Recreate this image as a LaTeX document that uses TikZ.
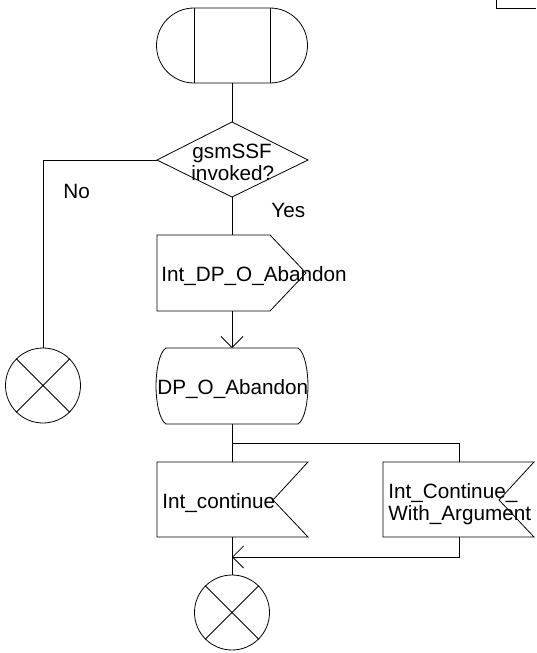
\documentclass[tikz,border=0pt]{standalone}
\usepackage{fontspec}
\setmainfont{Liberation Sans}
\usetikzlibrary{arrows.meta}
\begin{document}
\begin{tikzpicture}[x=1pt,y=1pt,line width=0.8pt,
  lbl/.style={inner sep=0pt,anchor=base west,font=\fontsize{20.7}{22}\selectfont},
  arr/.style={-{Straight Barb[length=11pt,width=22pt]}},
  term/.style={circle,draw,minimum size=75pt,inner sep=0pt}]
\useasboundingbox (0,0) rectangle (536,-653);
% fragment at top right
\draw (496,0) -- (496,-8) -- (536,-8);
% start terminal
\coordinate (st) at (232,-8);
\coordinate (sb) at (232,-83);
\draw (194,-8) -- (270,-8) arc[start angle=90,end angle=-90,radius=37.5] -- (194,-83) arc[start angle=270,end angle=90,radius=37.5] -- cycle;
\draw (194,-8) -- (194,-83) (270,-8) -- (270,-83);
% decision
\coordinate (dt) at (232,-122);
\coordinate (dl) at (157,-160);
\coordinate (dr) at (308,-160);
\coordinate (db) at (232,-197);
\draw (dt) -- (dr) -- (db) -- (dl) -- cycle;
\node[lbl] (q1) at (192,-158) {gsmSSF};
\node[lbl] (q2) at (191,-180) {invoked?};
\node[lbl] (yes) at (271,-217) {Yes};
\node[lbl] (no) at (63,-198) {No};
% output signal
\coordinate (ot) at (232,-235);
\coordinate (ob) at (232,-311);
\draw (157,-235) -- (270,-235) -- (306,-273) -- (270,-311) -- (157,-311) -- cycle;
\node[lbl] (out) at (161,-281) {Int\_DP\_O\_Abandon};
% DP_O_Abandon
\coordinate (pt) at (232,-348);
\coordinate (pb) at (232,-424);
\draw (166,-348) -- (298,-348) .. controls (305,-352) and (308,-372) .. (308,-386) .. controls (308,-400) and (305,-420) .. (298,-424) -- (166,-424) .. controls (159,-420) and (156,-400) .. (156,-386) .. controls (156,-372) and (159,-352) .. (166,-348) -- cycle;
\node[lbl] (dp) at (157,-394) {DP\_O\_Abandon};
% Int_continue
\coordinate (ict) at (232,-462);
\coordinate (icb) at (232,-537);
\draw (157,-462) -- (308,-462) -- (273,-500) -- (308,-537) -- (157,-537) -- cycle;
\node[lbl] (ic) at (162,-508) {Int\_continue};
% Int_Continue_With_Argument
\coordinate (rct) at (459,-462);
\coordinate (rcb) at (459,-537);
\draw (383,-462) -- (534,-462) -- (499,-500) -- (534,-537) -- (383,-537) -- cycle;
\node[lbl] (rc1) at (388,-498) {Int\_Continue\_};
\node[lbl] (rc2) at (388,-520) {With\_Argument};
% end terminals
\node[term] (endL) at (43,-385.5) {};
\draw (endL.45) -- (endL.225) (endL.135) -- (endL.-45);
\node[term] (endB) at (232,-612.5) {};
\draw (endB.45) -- (endB.225) (endB.135) -- (endB.-45);
% connectors
\coordinate (br) at (232,-443);
\coordinate (mg) at (232,-557);
\draw (sb) -- (dt);
\draw (dl) -| (endL.north);
\draw (db) -- (ot);
\draw[arr] (ob) -- (pt);
\draw (pb) -- (ict);
\draw (br) -| (rct);
\draw (icb) -- (endB.north);
\draw[arr] (rcb) |- (mg);
\end{tikzpicture}
\end{document}
